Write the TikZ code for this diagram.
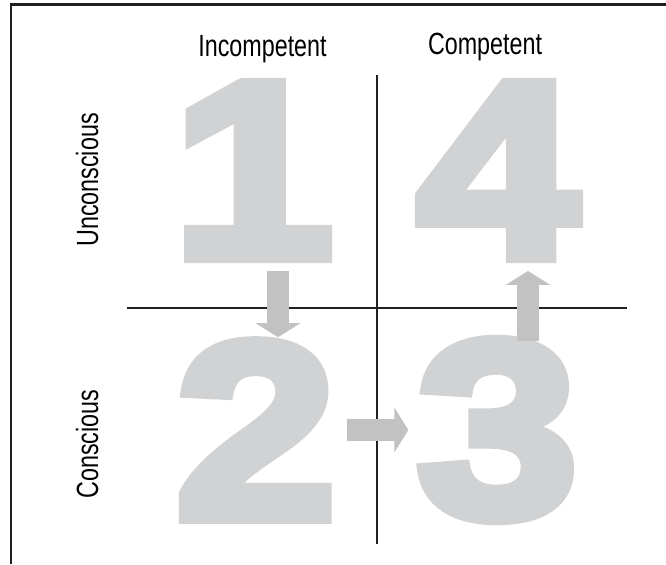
\documentclass[tikz,border=0pt]{standalone}
\usepackage{fontspec}
\usetikzlibrary{arrows.meta,calc,positioning}
\newfontfamily\labelfont[FakeStretch=0.76]{Liberation Sans}
\newfontfamily\numfont[FakeBold=5,FakeStretch=1.16]{Liberation Sans}
\definecolor{numgray}{HTML}{D1D2D4}
\definecolor{arrowgray}{HTML}{C2C2C2}
\definecolor{inkline}{HTML}{231F20}
\tikzstyle{numeral} = [inner sep=0pt,text=numgray,
  font=\numfont\bfseries\fontsize{188}{188}\selectfont]
\tikzstyle{heading} = [inner sep=0pt,anchor=base,
  font=\labelfont\fontsize{23}{23}\selectfont]
\tikzstyle{axisline} = [draw=inkline, line width=1.5pt]
\tikzstyle{frameline} = [draw=inkline, line width=1.9pt]
\tikzstyle{shiftarrow} = [draw=arrowgray, line width=16.5pt,
  -{Triangle[width=33pt,length=10.5pt]}]

\begin{document}
\begin{tikzpicture}[x=0.75pt, y=0.75pt]
\useasboundingbox (0,0) rectangle (666,564);

% open frame: left and top edge only
\draw[frameline] (11,0) -- (11,559.5) -- (666,559.5);

% quadrant cross
\draw[axisline] (127,256) -- (627,256);
\draw[axisline] (377,489) -- (377,20);

% the four stages
\node [numeral] (one) at (253,393.5) {1};
\node [numeral] (four) at (497.5,393.5) {4};
\node [numeral] (two) at (256,134) {2};
\node [numeral] (three) at (497.5,134) {3};

\path [shiftarrow] ($(one.south)+(25,-14)$) -- ($(two.north)+(22,5)$);
\path [shiftarrow] ($(two.east)+(10,0)$) -- ($(three.west)+(-8,0)$);
\path [shiftarrow] ($(three.north)+(30.5,0)$) -- ($(four.south)+(30.5,-14)$);

% axis titles
\node [heading] (incompetent) at (262.5,507) {Incompetent};
\node [heading] (competent) at (485,509) {Competent};
\node [heading, rotate=90] (unconscious) at (98,384) {Unconscious};
\node [heading, rotate=90] (conscious) at (98,120) {Conscious};

\end{tikzpicture}
\end{document}
